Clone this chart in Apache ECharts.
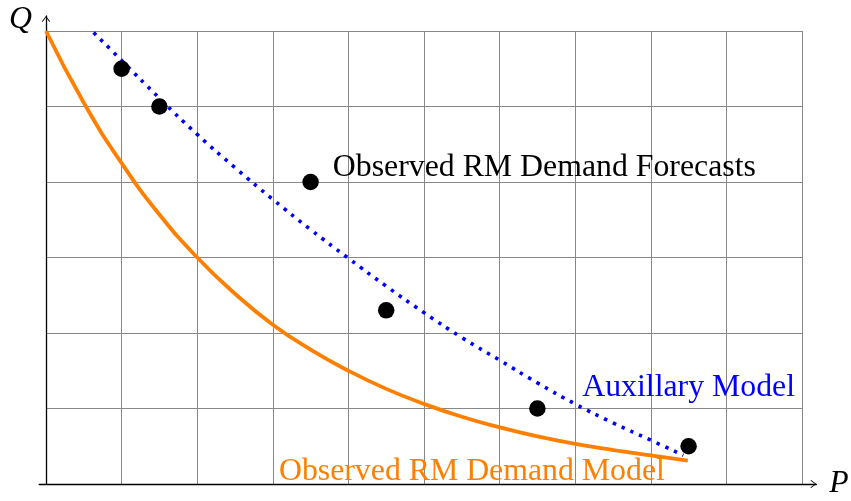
<!DOCTYPE html>
<html>
<head>
<meta charset="utf-8">
<script src="https://cdn.jsdelivr.net/npm/echarts@6/dist/echarts.min.js"></script>
<style>
html,body{margin:0;padding:0;background:#fff;}
#chart{width:851px;height:501px;}
</style>
</head>
<body>
<div id="chart"></div>
<script>
// Observed RM demand forecasts (black dots)
const forecastP = [1.0, 1.5, 3.5, 4.5, 6.5, 8.5];
const forecastQ = [5.5, 5.0, 4.0, 2.3, 1.0, 0.5];

// Observed RM demand model (orange curve)
const demandModelP = [0, 0.5, 1, 1.5, 2, 2.5, 3, 3.5, 4, 4.5, 5, 5.5, 6, 6.5, 7, 7.5, 8, 8.49];
const demandModelQ = [6.0, 5.05, 4.25, 3.57, 3.0, 2.52, 2.11, 1.78, 1.5, 1.26, 1.06, 0.89, 0.75, 0.63, 0.53, 0.45, 0.38, 0.31];

// Auxillary model (blue dotted curve)
const auxModelP = [0.63, 1, 1.5, 2, 2.5, 3, 3.5, 4, 4.5, 5, 5.5, 6, 6.5, 7, 7.5, 8, 8.43];
const auxModelQ = [5.98, 5.61, 5.11, 4.63, 4.19, 3.77, 3.37, 2.99, 2.62, 2.27, 1.94, 1.64, 1.34, 1.06, 0.81, 0.58, 0.38];

// Axis ranges / labels
const gridP = [0, 10];
const gridQ = [0, 6];
const axisP = [-0.09, 10.19];
const axisQ = [0, 6.2];
const axisNameP = 'P';
const axisNameQ = 'Q';
const labelForecasts = 'Observed RM Demand Forecasts';
const labelAux = 'Auxillary Model';
const labelDemand = 'Observed RM Demand Model';

const UX = 75.6, UY = 75.5;       // pixels per unit
const LEFT = 46, TOP = 31;
const FONT = 'Liberation Serif';
const FS = 31.8;
const ORANGE = '#ff8000', BLUE = '#0000ff';

const chart = echarts.init(document.getElementById('chart'), null, {renderer: 'canvas'});

const arrowPath = 'path://M4,0 L8,5.3 L7.4,6 L4,1.3 L0.6,6 L0,5.3 Z';
const zip = (a, b) => a.map((v, i) => [v, b[i]]);

const auxLabelIdx = auxModelP.indexOf(7);
const demandLabelIdx = demandModelP.length - 1;

const option = {
  animation: false,
  backgroundColor: '#fff',
  grid: [
    {left: LEFT, top: TOP, width: (gridP[1]-gridP[0]) * UX, height: (gridQ[1]-gridQ[0]) * UY,
     outerBoundsMode: 'none', containLabel: false},
    {left: LEFT + (axisP[0]-gridP[0]) * UX, top: TOP - (axisQ[1]-gridQ[1]) * UY,
     width: (axisP[1]-axisP[0]) * UX, height: (axisQ[1]-axisQ[0]) * UY,
     outerBoundsMode: 'none', containLabel: false}
  ],
  xAxis: [
    {type: 'value', gridIndex: 0, min: gridP[0], max: gridP[1], interval: 1,
     axisLine: {show: false}, axisTick: {show: false}, axisLabel: {show: false},
     splitLine: {show: true, lineStyle: {color: '#888', width: 1}}},
    {type: 'value', gridIndex: 1, min: axisP[0], max: axisP[1],
     axisLine: {show: true, onZero: true, symbol: ['none', arrowPath], symbolSize: [8, 6], symbolOffset: [0, -3],
                lineStyle: {color: '#000', width: 1.3}},
     axisTick: {show: false}, axisLabel: {show: false}, splitLine: {show: false},
     name: axisNameP, nameLocation: 'end', nameGap: 13,
     nameTextStyle: {fontFamily: FONT, fontStyle: 'italic', fontSize: FS, color: '#000', align: 'left', verticalAlign: 'middle'}}
  ],
  yAxis: [
    {type: 'value', gridIndex: 0, min: gridQ[0], max: gridQ[1], interval: 1,
     axisLine: {show: false}, axisTick: {show: false}, axisLabel: {show: false},
     splitLine: {show: true, lineStyle: {color: '#888', width: 1}}},
    {type: 'value', gridIndex: 1, min: axisQ[0], max: axisQ[1],
     axisLine: {show: true, onZero: true, symbol: ['none', arrowPath], symbolSize: [8, 6], symbolOffset: [0, -3],
                lineStyle: {color: '#000', width: 1.3}},
     axisTick: {show: false}, axisLabel: {show: false}, splitLine: {show: false},
     name: axisNameQ, nameLocation: 'end', nameGap: -4,
     nameTextStyle: {fontFamily: FONT, fontStyle: 'italic', fontSize: FS, color: '#000', align: 'right', verticalAlign: 'middle',
                     padding: [0, 14, 0, 0]}}
  ],
  series: [
    {type: 'line', xAxisIndex: 0, yAxisIndex: 0, data: zip(demandModelP, demandModelQ),
     smooth: 0.5, showSymbol: false, symbol: 'none', silent: true, z: 3,
     lineStyle: {color: ORANGE, width: 3.8, opacity: 1}},
    {type: 'line', xAxisIndex: 0, yAxisIndex: 0, data: zip(auxModelP, auxModelQ),
     smooth: 0.5, showSymbol: false, symbol: 'none', silent: true, z: 4,
     lineStyle: {color: BLUE, width: 3.6, type: [3.4, 6.2], cap: 'butt', opacity: 1}},
    {type: 'scatter', xAxisIndex: 0, yAxisIndex: 0, symbolSize: 16.5, silent: true, z: 5,
     itemStyle: {color: '#000', opacity: 1},
     data: forecastP.map((p, i) => i === 2 ? {
       value: [p, forecastQ[i]],
       label: {show: true, formatter: labelForecasts, position: 'right', distance: 14, offset: [0, -14],
               fontFamily: FONT, fontSize: FS, color: '#000', opacity: 1}
     } : {value: [p, forecastQ[i]]})},
    {type: 'scatter', xAxisIndex: 0, yAxisIndex: 0, symbolSize: 2, silent: true, z: 6,
     itemStyle: {color: 'rgba(0,0,0,0)', opacity: 1},
     data: [
       {value: [auxModelP[auxLabelIdx], auxModelQ[auxLabelIdx]],
        label: {show: true, formatter: labelAux, position: 'right', distance: 0, offset: [6, -16],
                fontFamily: FONT, fontSize: FS, color: BLUE, opacity: 1}},
       {value: [demandModelP[demandLabelIdx], demandModelQ[demandLabelIdx]],
        label: {show: true, formatter: labelDemand, position: 'left', distance: 0, offset: [-22, 11],
                fontFamily: FONT, fontSize: FS, color: ORANGE, opacity: 1}}
     ]}
  ]
};
chart.setOption(option);
</script>
</body>
</html>
